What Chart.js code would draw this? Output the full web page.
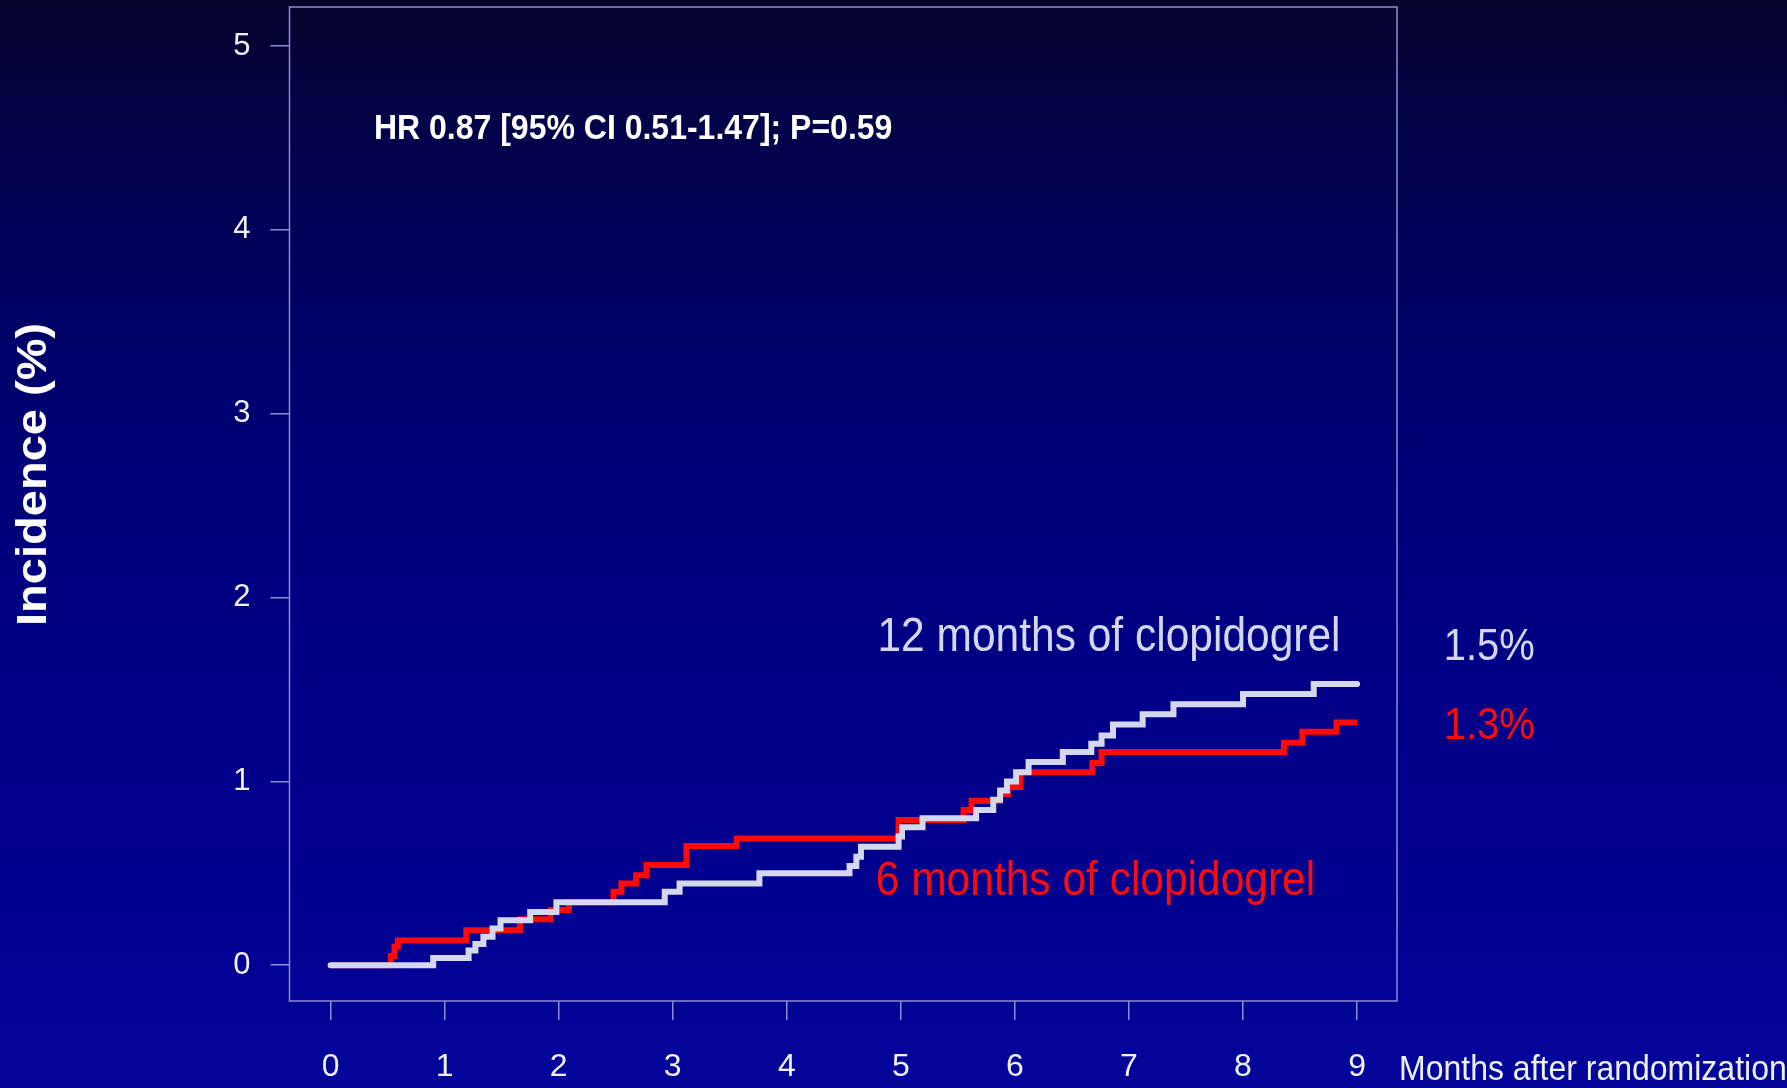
<!DOCTYPE html>
<html>
<head>
<meta charset="utf-8">
<title>Incidence by clopidogrel duration</title>
<script src="https://cdn.jsdelivr.net/npm/chart.js@4/dist/chart.umd.min.js"></script>
<style>
  html, body { margin: 0; padding: 0; }
  body {
    width: 1787px; height: 1088px; overflow: hidden;
    background: linear-gradient(to bottom, #04042a 0%, #03034a 12%, #010066 30%, #00007a 45%, #000087 62%, #00008f 82%, #04069a 100%);
  }
  canvas { display: block; }
</style>
</head>
<body>
<canvas id="km" width="1787" height="1088"></canvas>
<script>
// Cumulative incidence (%) at each event time (months after randomization)
const months12 = [0, 0.90, 1.21, 1.27, 1.34, 1.42, 1.49, 1.75, 1.98, 2.93, 3.06, 3.76, 4.55, 4.61, 4.65, 4.98, 5.01, 5.19, 5.66, 5.81, 5.87, 5.93, 6.01, 6.12, 6.42, 6.67, 6.76, 6.86, 7.12, 7.39, 8.00, 8.62, 9.00];
const incidence12 = [0, 0.04, 0.08, 0.115, 0.155, 0.20, 0.245, 0.29, 0.343, 0.40, 0.445, 0.50, 0.54, 0.59, 0.645, 0.70, 0.75, 0.80, 0.845, 0.90, 0.95, 1.00, 1.05, 1.105, 1.16, 1.205, 1.25, 1.31, 1.365, 1.42, 1.475, 1.53, 1.53];

const months6 = [0, 0.53, 0.56, 0.59, 1.19, 1.66, 1.93, 2.09, 2.48, 2.55, 2.68, 2.77, 3.12, 3.56, 4.98, 5.55, 5.62, 5.87, 5.94, 6.05, 6.68, 6.76, 8.36, 8.52, 8.82, 9.00];
const incidence6 = [0, 0.05, 0.10, 0.135, 0.19, 0.25, 0.30, 0.343, 0.40, 0.445, 0.49, 0.545, 0.648, 0.69, 0.79, 0.845, 0.895, 0.93, 0.97, 1.05, 1.10, 1.16, 1.21, 1.27, 1.32, 1.32];

const xTicks = [0, 1, 2, 3, 4, 5, 6, 7, 8, 9];
const yTicks = [0, 1, 2, 3, 4, 5];

const seriesNames = ['12 months of clopidogrel', '6 months of clopidogrel'];
const finalLabels = ['1.5%', '1.3%'];
const statsText = 'HR 0.87 [95% CI 0.51-1.47]; P=0.59';
const xTitle = 'Months after randomization';
const yTitle = 'Incidence (%)';

// Colours
const lightLine = '#d4d8ee';
const redLine = '#ff0a0a';
const frameColor = '#8c8cd8';
const tickText = '#eef0fa';

const toPoints = (xs, ys) => xs.map((x, i) => ({ x, y: ys[i] }));

// Text placements in data units (left edge / vertical centre)
const textSpots = {
  stats: { x: 0.38, y: 4.55 },
  name12: { x: 4.795, y: 1.78 },
  name6: { x: 4.78, y: 0.452 },
  final12: { x: 9.76, y: 1.726 },
  final6: { x: 9.76, y: 1.296 },
  yCaption: { y: 2.67 }
};

function drawText(ctx, text, px, py, font, color, opts = {}) {
  ctx.save();
  ctx.translate(px, py);
  if (opts.rotate) ctx.rotate(opts.rotate);
  ctx.scale(opts.sx || 1, opts.sy || 1);
  ctx.font = font;
  ctx.fillStyle = color;
  ctx.textAlign = opts.align || 'left';
  ctx.textBaseline = 'middle';
  ctx.fillText(text, 0, 0);
  ctx.restore();
}

const decorations = {
  id: 'decorations',
  beforeDatasetsDraw(chart) {
    const { ctx, chartArea: a } = chart;
    ctx.save();
    ctx.strokeStyle = frameColor;
    ctx.lineWidth = 1.5;
    ctx.strokeRect(a.left, a.top, a.right - a.left, a.bottom - a.top);
    ctx.restore();
  },
  afterDraw(chart) {
    const { ctx, chartArea: a, scales: { x, y } } = chart;
    const stretch = 1.12;
    const sans = '"Liberation Sans", Arial, sans-serif';

    drawText(ctx, statsText, x.getPixelForValue(textSpots.stats.x), y.getPixelForValue(textSpots.stats.y),
      'bold 32px ' + sans, '#ffffff', { sy: stretch });

    drawText(ctx, seriesNames[0], x.getPixelForValue(textSpots.name12.x), y.getPixelForValue(textSpots.name12.y),
      '42.5px ' + sans, lightLine, { sy: stretch });
    drawText(ctx, seriesNames[1], x.getPixelForValue(textSpots.name6.x), y.getPixelForValue(textSpots.name6.y),
      '42.5px ' + sans, redLine, { sy: stretch });

    drawText(ctx, finalLabels[0], x.getPixelForValue(textSpots.final12.x), y.getPixelForValue(textSpots.final12.y),
      '40px ' + sans, lightLine, { sy: stretch });
    drawText(ctx, finalLabels[1], x.getPixelForValue(textSpots.final6.x), y.getPixelForValue(textSpots.final6.y),
      '40px ' + sans, redLine, { sy: stretch });

    // x-axis caption sits on the tick-label row, just right of the frame
    drawText(ctx, xTitle, a.right + 2, a.bottom + 69, '32px ' + sans, tickText, { sy: 1.08 });

    // y-axis caption, rotated
    drawText(ctx, yTitle, 34, y.getPixelForValue(textSpots.yCaption.y), 'bold 42px ' + sans, '#ffffff',
      { rotate: -Math.PI / 2, sx: stretch, align: 'center' });
  }
};

const tickFont = size => ({ family: '"Liberation Sans", Arial, sans-serif', size });

new Chart(document.getElementById('km'), {
  type: 'line',
  data: {
    datasets: [
      {
        label: seriesNames[0],
        data: toPoints(months12, incidence12),
        borderColor: lightLine,
        borderWidth: 6,
        stepped: 'before',
        pointRadius: 0,
        fill: false,
        borderCapStyle: 'round'
      },
      {
        label: seriesNames[1],
        data: toPoints(months6, incidence6),
        borderColor: redLine,
        borderWidth: 6,
        stepped: 'before',
        pointRadius: 0,
        fill: false,
        borderCapStyle: 'butt'
      }
    ]
  },
  options: {
    responsive: false,
    animation: false,
    devicePixelRatio: 1,
    layout: { padding: { top: 7, right: 390, bottom: 0, left: 0 } },
    plugins: { legend: { display: false }, tooltip: { enabled: false } },
    scales: {
      x: {
        type: 'linear',
        min: -0.36,
        max: 9.35,
        afterBuildTicks: s => { s.ticks = xTicks.map(v => ({ value: v })); },
        afterFit: s => { s.height = 87; s.paddingLeft = 0; s.paddingRight = 0; },
        border: { display: false },
        grid: { drawOnChartArea: false, drawTicks: true, tickLength: 19, color: frameColor, lineWidth: 1.5 },
        ticks: { color: tickText, padding: 28, maxRotation: 0, font: tickFont(32) }
      },
      y: {
        type: 'linear',
        min: -0.1945,
        max: 5.2125,
        afterBuildTicks: s => { s.ticks = yTicks.map(v => ({ value: v })); },
        afterFit: s => { s.width = 289.5; s.paddingTop = 0; s.paddingBottom = 0; },
        border: { display: false },
        grid: { drawOnChartArea: false, drawTicks: true, tickLength: 19, color: frameColor, lineWidth: 1.5 },
        ticks: { color: tickText, padding: 20, font: tickFont(31) }
      }
    }
  },
  plugins: [decorations]
});
</script>
</body>
</html>
